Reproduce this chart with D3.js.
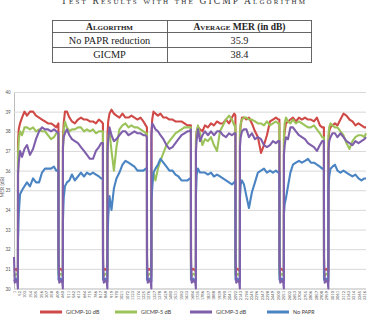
<!DOCTYPE html>
<html><head><meta charset="utf-8">
<script src="https://cdn.jsdelivr.net/npm/d3@7/dist/d3.min.js"></script>
<style>body{margin:0;background:#fff;}svg{display:block;}</style>
</head><body>
<svg id="c" width="369" height="318"></svg>
<script>
// ---------- data ----------
const captionText = "Test Results with the GICMP Algorithm";
const tableHeader = ["Algorithm", "Average", " MER (in dB)"];
const tableAlgorithms = ["No PAPR reduction", "GICMP"];
const tableAverageMER = ["35.9", "38.4"];

const seriesNames = ["GICMP-10 dB", "GICMP-5 dB", "GICMP-3 dB", "No PAPR"];
const seriesColors = ["#cf4a46", "#9cc35a", "#7f5fac", "#4a84c3"];

const yTicks = [30,31,32,33,34,35,36,37,38,39,40];
const xTickLabels = [1,52,103,154,205,256,307,358,409,460,511,562,613,664,715,766,817,868,919,970,1021,1072,1123,1174,1225,1276,1327,1378,1429,1480,1531,1582,1633,1684,1735,1786,1837,1888,1939,1990,2041,2092,2143,2194,2245,2296,2347,2398,2449,2500,2551,2602,2653,2704,2755,2806,2857,2908,2959,3010,3061,3112,3163,3214,3265,3316];
const lastSample = 3330;

const sampleIndex = [
1,8,21,33,38,
39,46,58,77,100,124,152,181,209,238,266,294,323,351,379,401,421,
422,429,442,458,463,
464,471,483,502,525,549,577,606,634,663,691,719,748,776,804,826,842,
843,850,863,879,884,
885,892,904,923,946,970,998,1027,1055,1084,1112,1140,1169,1197,1225,1247,1258,
1259,1266,1279,1295,1300,
1301,1308,1320,1339,1362,1386,1414,1443,1471,1500,1528,1556,1585,1613,1641,1663,1674,
1675,1682,1695,1716,1721,
1722,1729,1741,1760,1783,1807,1835,1864,1892,1921,1949,1977,2006,2034,2062,2084,2095,
2096,2103,2116,2132,2137,
2138,2145,2157,2176,2199,2223,2251,2280,2308,2337,2365,2393,2422,2450,2478,2500,2511,
2512,2519,2532,2548,2553,
2554,2561,2573,2592,2615,2639,2667,2696,2724,2753,2781,2809,2838,2866,2894,2916,2932,
2933,2940,2953,2969,2974,
2975,2982,2994,3013,3036,3060,3088,3117,3145,3174,3202,3230,3259,3287,3315,3330
];

const gicmp10 = [
31.0,30.95,31.0,30.9,30.9,
37.4,38.1,38.4,38.7,39.0,38.8,39.0,39.0,38.8,38.7,38.6,38.5,38.4,38.4,38.3,38.2,38.4,
31.0,30.95,31.0,30.9,30.9,
37.6,38.4,39.0,39.0,38.7,38.5,38.4,38.6,38.7,38.6,38.6,38.5,38.5,38.4,38.6,38.5,38.4,
31.0,30.95,31.0,30.9,30.9,
37.8,38.5,38.9,39.1,38.9,38.8,38.7,38.9,38.7,38.7,38.8,38.7,38.6,38.7,38.5,38.3,38.2,
31.0,30.95,31.0,30.9,30.9,
37.9,38.6,39.0,38.9,38.8,38.9,38.7,38.7,38.6,38.6,38.5,38.5,38.5,38.4,38.3,38.3,38.3,
31.0,30.95,31.0,30.9,30.9,
37.6,38.0,38.2,38.1,38.0,38.3,38.2,38.4,38.3,38.5,38.4,38.4,38.6,38.4,38.7,38.9,38.8,
31.0,30.95,31.0,30.9,30.9,
37.8,38.3,38.7,38.7,38.6,38.7,38.4,38.0,37.7,36.9,37.3,37.8,38.5,38.6,38.7,38.6,38.6,
31.0,30.95,31.0,30.9,30.9,
37.6,38.0,38.4,38.5,38.6,38.7,38.5,38.7,38.6,38.7,38.6,38.6,38.5,38.7,38.3,38.2,38.2,
31.0,30.95,31.0,30.9,30.9,
37.5,38.0,38.2,38.3,38.4,38.3,38.6,38.9,38.8,38.6,38.5,38.3,38.4,38.3,38.2,38.2
];

const gicmp5 = [
30.7,30.65,30.75,30.7,30.6,
36.8,37.6,38.0,37.8,38.2,38.2,38.1,38.2,38.0,38.1,38.0,38.0,37.8,37.6,37.7,37.9,37.9,
30.7,30.65,30.75,30.7,30.6,
37.0,38.0,38.5,38.2,38.0,38.1,38.1,38.2,38.2,38.0,38.1,38.0,38.1,37.9,38.0,38.0,38.0,
30.7,30.65,30.75,30.7,30.6,
37.2,37.8,38.0,37.0,36.0,37.2,38.1,38.3,38.4,38.2,38.3,38.2,38.2,38.1,38.0,37.9,37.9,
30.7,30.65,30.75,30.7,30.6,
35.0,35.5,35.9,35.5,36.1,36.5,36.9,37.3,37.5,37.7,37.9,38.0,38.1,38.2,38.2,38.2,38.2,
30.7,30.65,30.75,30.7,30.6,
37.5,38.0,38.3,37.9,37.3,37.6,37.5,37.7,37.3,37.0,38.0,38.3,38.6,38.8,38.6,38.3,38.3,
30.7,30.65,30.75,30.7,30.6,
37.9,38.4,38.6,38.7,38.7,38.6,38.6,38.5,38.4,38.4,38.3,38.5,38.3,38.4,38.5,38.4,38.4,
30.7,30.65,30.75,30.7,30.6,
37.8,38.4,38.7,38.5,38.4,38.6,38.4,38.5,38.4,38.3,38.2,38.2,38.3,38.1,37.9,37.7,37.7,
30.7,30.65,30.75,30.7,30.6,
37.8,38.2,38.4,38.3,38.2,38.2,38.0,37.8,37.4,37.1,37.5,37.7,37.8,37.8,37.7,37.9
];

const gicmp3 = [
31.6,30.3,30.4,30.3,30.0,
35.8,36.4,37.0,36.7,37.1,37.3,36.8,37.1,37.6,38.0,38.2,38.1,38.1,38.0,38.1,38.0,37.9,
31.6,30.3,30.4,30.3,30.0,
37.2,37.7,37.9,38.1,37.8,37.6,37.5,37.4,37.2,37.0,36.8,36.6,36.6,37.0,37.2,37.4,37.4,
31.6,30.3,30.4,30.3,30.0,
36.9,37.6,38.2,37.8,37.5,37.6,37.8,38.0,38.0,37.8,37.9,38.0,37.9,37.9,37.8,37.8,37.7,
31.6,30.3,30.4,30.3,30.0,
37.8,38.4,38.3,38.1,38.0,37.8,37.6,37.3,37.1,37.2,37.4,37.6,37.8,37.9,38.0,38.0,38.1,
31.6,30.3,30.4,30.3,30.0,
37.0,37.6,38.1,37.5,37.8,38.0,37.8,38.0,37.8,38.0,38.0,37.8,37.7,37.9,37.8,37.9,37.9,
31.6,30.3,30.4,30.3,30.0,
37.2,37.7,38.0,38.1,38.1,37.7,37.9,37.6,37.7,37.6,37.3,37.2,37.3,37.5,37.4,37.5,37.5,
31.6,30.3,30.4,30.3,30.0,
36.8,37.3,37.7,37.6,38.2,38.2,38.0,37.8,37.7,37.6,37.4,37.3,37.2,37.0,37.3,37.5,37.5,
31.6,30.3,30.4,30.3,30.0,
37.0,37.5,37.7,37.9,37.9,37.7,37.9,37.7,37.5,37.4,37.3,37.5,37.4,37.5,37.6,37.7
];

const noPapr = [
30.45,30.4,30.5,30.4,30.35,
32.4,33.8,34.8,35.0,35.2,35.4,35.2,35.6,35.4,35.4,35.9,36.1,36.1,36.1,36.2,36.0,36.0,
30.45,30.4,30.5,30.4,30.35,
33.5,34.6,35.2,35.4,35.5,35.8,35.5,35.7,35.9,35.7,35.9,35.8,35.9,35.8,35.7,35.6,35.6,
30.45,30.4,30.5,30.4,30.35,
32.4,33.6,34.7,34.0,35.1,35.6,35.9,36.3,36.5,36.4,36.3,36.2,36.0,36.0,36.0,36.1,36.1,
30.45,30.4,30.5,30.4,30.35,
34.5,35.1,35.9,36.1,36.3,36.6,36.4,36.2,36.0,36.0,35.8,35.7,35.5,35.5,35.5,35.6,35.6,
30.45,30.4,30.5,30.4,30.35,
34.8,35.8,36.1,35.9,35.9,35.9,35.8,35.9,35.7,35.8,35.7,35.6,35.5,35.4,35.3,35.4,35.5,
30.45,30.4,30.5,30.4,30.35,
34.6,35.3,35.5,35.3,34.7,34.1,34.9,35.4,35.9,36.0,36.1,35.9,36.0,35.9,36.0,35.9,35.9,
30.45,30.4,30.5,30.4,30.35,
33.8,34.3,34.6,35.2,35.9,36.3,36.4,36.5,36.4,36.5,36.6,36.4,36.4,36.3,36.2,36.1,36.1,
30.45,30.4,30.5,30.4,30.35,
35.0,35.7,36.1,36.2,36.3,36.0,35.9,36.0,35.9,35.8,35.7,35.8,35.6,35.5,35.6,35.6
];

const seriesValues = [gicmp10, gicmp5, gicmp3, noPapr];
// draw order (purple on top at the drops)
const drawOrder = [0, 1, 3, 2];

// ---------- drawing ----------
const svg = d3.select("#c");
const serif = "'Liberation Serif', 'Times New Roman', serif";
const sans = "Carlito, Calibri, 'Open Sans', 'DejaVu Sans', sans-serif";

// caption (cut at top edge as in the reference)
svg.append("text").attr("x", 183).attr("y", 3.6)
  .attr("text-anchor", "middle").attr("font-family", serif)
  .attr("font-size", 9.5).style("font-variant", "small-caps")
  .attr("fill", "#333").attr("textLength", 244).text(captionText);

// table
const tL = 52, tR = 312, tMid = 167;
const rowY = [20, 32, 47, 62];
const tg = svg.append("g").attr("stroke", "#555").attr("stroke-width", 0.9);
rowY.forEach(v => tg.append("line").attr("x1", tL).attr("x2", tR).attr("y1", v + 0.5).attr("y2", v + 0.5));
[tL + 0.5, tMid + 0.5, tR - 0.5].forEach(v => tg.append("line").attr("x1", v).attr("x2", v).attr("y1", 20.5).attr("y2", 62.5));
const c1 = (tL + tMid) / 2, c2 = (tMid + tR) / 2;
svg.append("text").attr("x", c1).attr("y", 29.5).attr("text-anchor", "middle")
  .attr("font-family", serif).attr("font-weight", "bold").attr("font-size", 9.5)
  .style("font-variant", "small-caps").attr("fill", "#222").text(tableHeader[0]);
const h2 = svg.append("text").attr("x", c2).attr("y", 29.5).attr("text-anchor", "middle")
  .attr("font-family", serif).attr("font-weight", "bold").attr("font-size", 9.5).attr("fill", "#222");
h2.append("tspan").style("font-variant", "small-caps").text(tableHeader[1]);
h2.append("tspan").text(tableHeader[2]);
tableAlgorithms.forEach((a, i) => {
  const yy = 43.5 + i * 14.5;
  svg.append("text").attr("x", c1).attr("y", yy).attr("text-anchor", "middle")
    .attr("font-family", serif).attr("font-size", 10.3).attr("fill", "#222").text(a);
  svg.append("text").attr("x", c2).attr("y", yy).attr("text-anchor", "middle")
    .attr("font-family", serif).attr("font-size", 10.3).attr("fill", "#222").text(tableAverageMER[i]);
});

// chart scales
const x = d3.scaleLinear().domain([1, lastSample]).range([14, 366]);
const y = d3.scaleLinear().domain([30, 40]).range([288.5, 92]);

// y axis + gridlines
const yAxis = svg.append("g").attr("transform", "translate(14,0)")
  .call(d3.axisLeft(y).tickValues(yTicks).tickSize(-352).tickPadding(3.5).tickFormat(d3.format("d")));
yAxis.select(".domain").attr("stroke", "#bdbdbd");
yAxis.selectAll(".tick line").attr("stroke", "#d9d9d9");
yAxis.selectAll(".tick text").attr("font-family", sans).attr("font-size", 5).attr("fill", "#555");

// y title
svg.append("text").attr("transform", "translate(4.3,187) rotate(-90)")
  .attr("text-anchor", "middle").attr("font-family", sans).attr("font-size", 5.5)
  .attr("fill", "#555").text("MER (dB)");

// x labels
const xg = svg.append("g");
xg.selectAll("text").data(xTickLabels).join("text")
  .attr("transform", d => `translate(${x(d)},291) rotate(-90)`)
  .attr("text-anchor", "end").attr("dy", "0.35em")
  .attr("font-family", sans).attr("font-size", 4.6).attr("fill", "#555")
  .text(d => d);

// lines
const line = d3.line().x((d, i) => x(sampleIndex[i])).y(d => y(d));
drawOrder.forEach(s => {
  svg.append("path").datum(seriesValues[s])
    .attr("fill", "none").attr("stroke", seriesColors[s])
    .attr("stroke-width", 2.1).attr("stroke-linejoin", "round")
    .attr("d", line);
});

// legend
const legendX = [40, 115, 190, 267];
seriesNames.forEach((n, i) => {
  svg.append("rect").attr("x", legendX[i]).attr("y", 310.5).attr("width", 22).attr("height", 3)
    .attr("fill", seriesColors[i]);
  svg.append("text").attr("x", legendX[i] + 26).attr("y", 314.2)
    .attr("font-family", sans).attr("font-size", 6.2).attr("fill", "#444").text(n);
});
</script>
</body></html>
